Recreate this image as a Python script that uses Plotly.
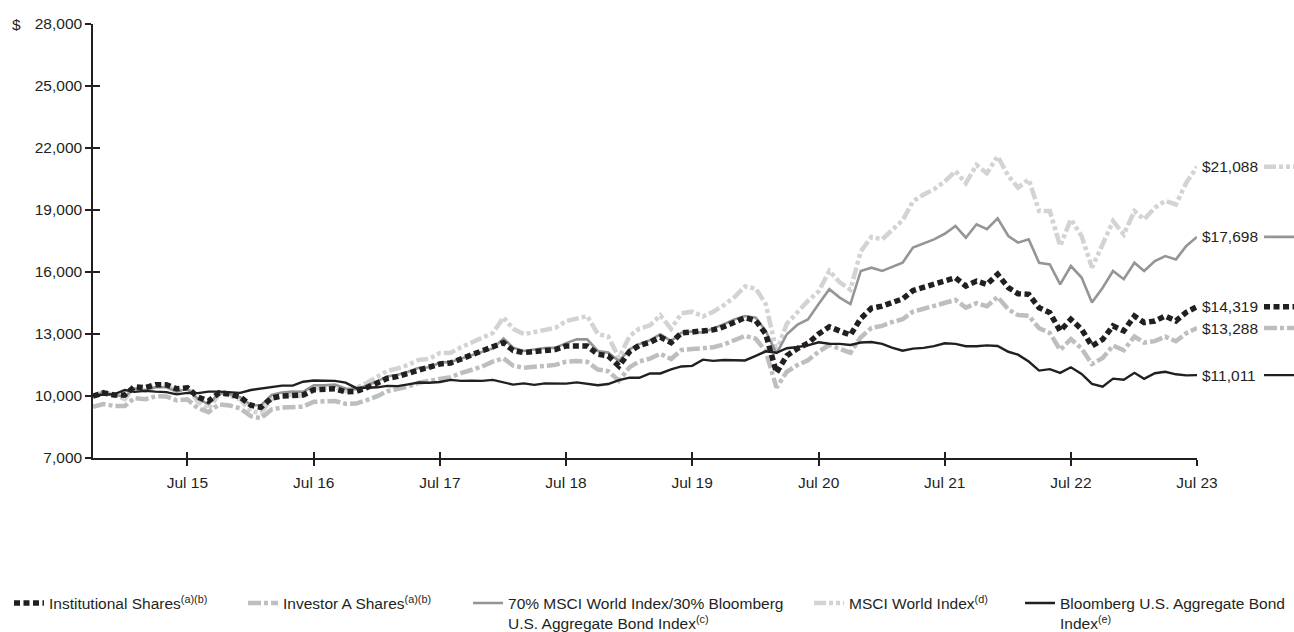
import pandas as pd
import plotly.graph_objects as go

# ---------------- data ----------------
start_month = "2014-10-31"
n_months = 106
dates = pd.date_range(start_month, periods=n_months, freq=pd.offsets.MonthEnd())

institutional = [
    10000, 10150, 10050, 10050, 10450, 10400, 10550, 10550, 10350, 10400,
    9950, 9750, 10150, 10100, 9950, 9550, 9450, 9900, 10000, 10050,
    10050, 10300, 10330, 10350, 10200, 10220, 10400, 10600, 10850, 10950,
    11100, 11300, 11400, 11550, 11600, 11800, 11950, 12150, 12400, 12580,
    12200, 12100, 12150, 12200, 12250, 12420, 12450, 12420, 12020, 11940,
    11450, 12150, 12450, 12600, 12850, 12580, 13050, 13100, 13150, 13200,
    13350, 13550, 13790, 13650, 13000, 11130, 11950, 12300, 12550, 13000,
    13350, 13150, 12950, 13750, 14250, 14350, 14550, 14700, 15100, 15250,
    15400, 15550, 15720, 15320, 15560, 15400, 15890, 15240, 14950, 14920,
    14270, 14030, 13150, 13710, 13230, 12420, 12740, 13390, 13150, 13870,
    13550, 13630, 13870, 13630, 14050, 14319,
]
investor_a = [
    9475, 9615, 9520, 9515, 9895, 9845, 9985, 9980, 9790, 9835,
    9410, 9220, 9595, 9545, 9400, 9020, 8925, 9350, 9440, 9485,
    9485, 9720, 9745, 9760, 9620, 9635, 9805, 9990, 10225, 10315,
    10455, 10640, 10730, 10870, 10915, 11105, 11240, 11425, 11660, 11825,
    11465, 11370, 11415, 11460, 11505, 11660, 11690, 11655, 11280, 11200,
    10740, 11395, 11675, 11810, 12045, 11790, 12225, 12270, 12315, 12360,
    12495, 12680, 12905, 12770, 12160, 10410, 11175, 11500, 11730, 12145,
    12470, 12285, 12095, 12840, 13300, 13395, 13575, 13715, 14085, 14220,
    14360, 14495, 14650, 14275, 14495, 14345, 14795, 14190, 13915, 13885,
    13280, 13050, 12230, 12750, 12300, 11545, 11840, 12440, 12215, 12880,
    12585, 12655, 12875, 12650, 13035, 13288,
]
blend_70_30 = [
    10000, 10160, 10050, 9980, 10370, 10270, 10420, 10420, 10210, 10350,
    9860, 9610, 10140, 10080, 9940, 9560, 9540, 10050, 10170, 10210,
    10200, 10520, 10520, 10550, 10360, 10330, 10510, 10710, 10940, 11030,
    11170, 11360, 11390, 11610, 11650, 11810, 11970, 12150, 12300, 12780,
    12340, 12180, 12250, 12320, 12330, 12560, 12740, 12740, 12180, 12100,
    11690, 12260, 12510, 12700, 12990, 12660, 13060, 13120, 13060, 13250,
    13480, 13700, 13870, 13790, 13150, 12050, 12990, 13450, 13700, 14450,
    15170, 14760, 14450, 16050, 16210, 16050, 16250, 16450, 17180, 17380,
    17580, 17850, 18230, 17660, 18310, 18070, 18600, 17740, 17420, 17580,
    16450, 16370, 15400, 16290, 15730, 14520, 15240, 16050, 15650, 16450,
    16050, 16530, 16770, 16610, 17260, 17698,
]
msci_world = [
    10000, 10200, 10040, 9850, 10430, 10260, 10500, 10510, 10250, 10430,
    9720, 9360, 10100, 10020, 9840, 9250, 9190, 9850, 10010, 10070,
    9960, 10380, 10390, 10440, 10240, 10380, 10630, 10910, 11210, 11340,
    11510, 11750, 11800, 12080, 12090, 12360, 12590, 12870, 13050, 13800,
    13250, 12990, 13100, 13180, 13300, 13620, 13750, 13870, 13000, 12880,
    11850, 12900, 13260, 13420, 13900, 13250, 14000, 14080, 13850, 14080,
    14400, 14780, 15300, 15200, 14450, 12150, 13500, 14050, 14600, 15060,
    16050, 15500, 15150, 17000, 17700, 17580, 18000, 18500, 19420, 19750,
    20000, 20380, 20880, 20300, 21180, 20780, 21600, 20650, 20080, 20480,
    18950, 18950, 17260, 18550, 17740, 16210, 17340, 18470, 17820, 18950,
    18550, 19110, 19440, 19270, 20320, 21088,
]
bloomberg_agg = [
    10000, 10070, 10080, 10290, 10200, 10250, 10210, 10190, 10080, 10150,
    10140, 10210, 10210, 10180, 10150, 10290, 10360, 10460, 10500, 10500,
    10690, 10750, 10740, 10730, 10650, 10390, 10400, 10420, 10490, 10480,
    10560, 10650, 10640, 10680, 10780, 10730, 10740, 10730, 10780, 10650,
    10550, 10610, 10540, 10610, 10600, 10600, 10660, 10600, 10520, 10580,
    10770, 10890, 10880, 11090, 11090, 11290, 11430, 11460, 11760, 11700,
    11740, 11730, 11720, 11940, 12160, 12090, 12310, 12370, 12450, 12600,
    12530, 12520, 12470, 12590, 12610, 12520, 12340, 12190, 12290, 12330,
    12410, 12550, 12520, 12410, 12410, 12450, 12420, 12140, 12000, 11670,
    11230, 11300, 11120, 11390, 11070, 10590, 10450, 10840, 10790, 11120,
    10830, 11100, 11170, 11050, 11000, 11011,
]

series_names = [
    "Institutional Shares<sup>(a)(b)</sup>",
    "Investor A Shares<sup>(a)(b)</sup>",
    "70% MSCI World Index/30% Bloomberg<br>U.S. Aggregate Bond Index<sup>(c)</sup>",
    "MSCI World Index<sup>(d)</sup>",
    "Bloomberg U.S. Aggregate Bond<br>Index<sup>(e)</sup>",
]
series_values = [institutional, investor_a, blend_70_30, msci_world, bloomberg_agg]

xtick_dates = ["2015-07-31", "2016-07-31", "2017-07-31", "2018-07-31", "2019-07-31",
               "2020-07-31", "2021-07-31", "2022-07-31", "2023-07-31"]
xtick_labels = ["Jul 15", "Jul 16", "Jul 17", "Jul 18", "Jul 19",
                "Jul 20", "Jul 21", "Jul 22", "Jul 23"]
ytick_vals = [7000, 10000, 13000, 16000, 19000, 22000, 25000, 28000]

# ---------------- styles ----------------
INK = "#231f20"
styles = [
    dict(color=INK, width=5.5, dash="6px,3.5px"),                  # Institutional
    dict(color="#bcbec0", width=4.5, dash="13px,3px,4px,3px"),     # Investor A
    dict(color="#939598", width=2.6, dash="solid"),                # 70/30
    dict(color="#d1d3d4", width=4.5, dash="12px,3px,4px,3px,4px,3px"),  # MSCI World
    dict(color=INK, width=2.4, dash="solid"),                      # Bloomberg
]
draw_order = [3, 1, 2, 4, 0]
legend_ids = ["legend", "legend2", "legend3", "legend4", "legend5"]
legend_x = [-0.0761, 0.1359, 0.3397, 0.6486, 0.8397]   # paper x of each legend box

FONT = "Liberation Sans, Arial, Helvetica, sans-serif"
FS = 15.5

fig = go.Figure()
for k in draw_order:
    fig.add_trace(go.Scatter(
        x=dates, y=series_values[k], mode="lines", name=series_names[k],
        line=styles[k], legend=legend_ids[k], hoverinfo="skip",
    ))
# helper trace to create an overlay axis pair for the inner half of the crossing ticks
fig.add_trace(go.Scatter(x=[dates[0]], y=[ytick_vals[0]], xaxis="x2", yaxis="y2",
                         mode="lines", showlegend=False, hoverinfo="skip",
                         line=dict(width=0)))

# end-value labels with line samples
x_lab0, x_lab1 = 1.0607, 1.0900
for k in range(5):
    v = series_values[k][-1]
    fig.add_annotation(x=1, xref="paper", y=v, yref="y", xanchor="left", yanchor="middle",
                       xshift=3, text=f"${v:,.0f}", showarrow=False,
                       font=dict(family=FONT, size=FS, color=INK))
    fig.add_shape(type="line", xref="paper", yref="y", x0=x_lab0, x1=x_lab1, y0=v, y1=v,
                  line=dict(color=styles[k]["color"], width=styles[k]["width"],
                            dash=styles[k]["dash"]))

# "$" in front of top tick
fig.add_annotation(x=-0.0755, xref="paper", y=ytick_vals[-1], yref="y", xanchor="left",
                   yanchor="middle", text="$", showarrow=False,
                   font=dict(family=FONT, size=FS, color=INK))

legend_common = dict(orientation="h", xanchor="left", yref="container", y=0.072,
                     yanchor="top", valign="top", itemwidth=30,
                     bgcolor="rgba(0,0,0,0)",
                     font=dict(family=FONT, size=FS, color=INK))
legend_layout = {lid: dict(x=legend_x[i], **legend_common) for i, lid in enumerate(legend_ids)}

axis_common = dict(showgrid=False, zeroline=False, tickcolor=INK, tickwidth=1.5)
fig.update_layout(
    width=1294, height=632,
    margin=dict(l=93, r=97, t=24, b=174),
    paper_bgcolor="white", plot_bgcolor="white",
    font=dict(family=FONT, size=FS, color=INK),
    showlegend=True,
    **legend_layout,
    xaxis=dict(type="date", range=[dates[0], dates[-1]], tickvals=xtick_dates,
               ticktext=xtick_labels, showline=True, linecolor=INK, linewidth=1.5,
               ticks="outside", ticklen=6, ticklabelstandoff=4, **axis_common),
    yaxis=dict(range=[ytick_vals[0], ytick_vals[-1]], tickvals=ytick_vals,
               tickformat=",d", showline=True, linecolor=INK, linewidth=1.5,
               ticks="outside", ticklen=6, **axis_common),
    xaxis2=dict(overlaying="x", matches="x", anchor="y2", side="bottom", type="date",
                tickvals=xtick_dates, ticks="inside", ticklen=6, showticklabels=False,
                showline=False, **axis_common),
    yaxis2=dict(overlaying="y", matches="y", anchor="x2", side="left",
                tickvals=ytick_vals, ticks="inside", ticklen=7, showticklabels=False,
                showline=False, **axis_common),
)

fig.write_html("out.html")
